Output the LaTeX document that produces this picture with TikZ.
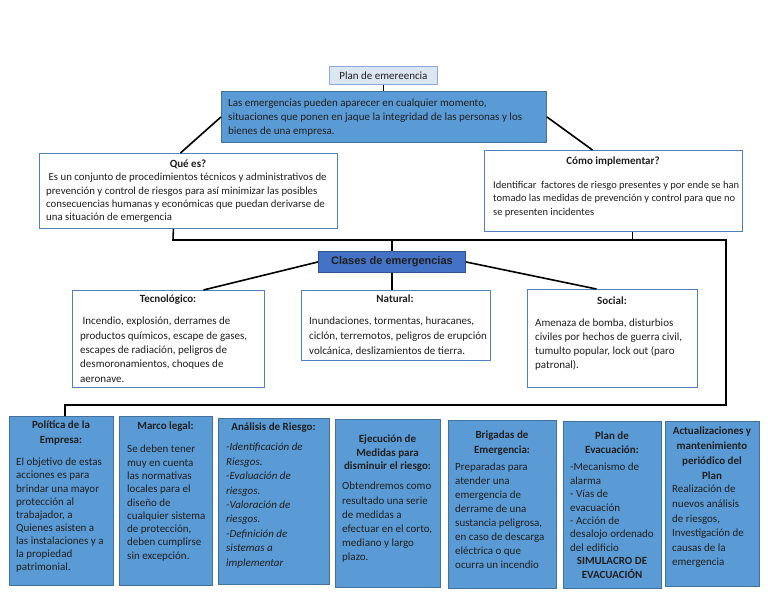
\documentclass[tikz,border=0pt]{standalone}
\usepackage{fontspec}
\setmainfont{Carlito}
\newfontfamily\clasefont{Liberation Sans}
\usetikzlibrary{calc}

\definecolor{steel}{HTML}{5B9BD5}
\definecolor{steeledge}{HTML}{41719C}
\definecolor{paleblue}{HTML}{DCE6F2}
\definecolor{paleedge}{HTML}{8EA9DB}
\definecolor{frameblue}{HTML}{4F81BD}
\definecolor{royal}{HTML}{4472C4}
\definecolor{royaledge}{HTML}{2F528F}
\definecolor{ink}{HTML}{1F1F1F}

\newcommand{\linesp}[1]{\fontsize{11}{#1}\selectfont}

\begin{document}
\begin{tikzpicture}[x=1pt, y=-1pt,
    box/.style={rectangle, anchor=north west, inner sep=0pt, line width=0.9pt},
    planbox/.style={box, draw=paleedge, fill=paleblue},
    mainbox/.style={box, draw=steeledge, fill=steel},
    framebox/.style={box, draw=frameblue, fill=white},
    clasebox/.style={box, draw=royaledge, fill=royal},
    bluebox/.style={box, draw=steeledge, fill=steel},
    ttl/.style={inner sep=0pt, anchor=north, align=center, text=ink},
    bdy/.style={inner sep=0pt, anchor=north west, align=left, text=ink},
    link/.style={line width=1.6pt, black}]

    \useasboundingbox (0,0) rectangle (768,594);

    % --- 1. Top of the chart ---
    \node[planbox, minimum width=108pt, minimum height=18pt, font=\linesp{13}, text=ink] (plan) at (329,66) {Plan de emereencia};

    \node[mainbox, minimum width=325pt, minimum height=51pt] (main) at (221,91) {};
    \node[bdy, font=\linesp{13.8}] (main-t) at (228,99) {Las emergencias pueden aparecer en cualquier momento,\\
        situaciones que ponen en jaque la integridad de las personas y los\\
        bienes de una empresa.};

    % --- 2. Que es / Como implementar ---
    \node[framebox, minimum width=298pt, minimum height=75pt] (quees) at (39,153) {};
    \node[ttl, font=\bfseries\linesp{13.4}] (quees-ttl) at (188,160) {Qué es?};
    \node[bdy, font=\fontsize{10.8}{13.4}\selectfont] (quees-t) at (46,173) {\hspace*{2.5pt}Es un conjunto de procedimientos técnicos y administrativos de\\
        prevención y control de riesgos para así minimizar las posibles\\
        consecuencias humanas y económicas que puedan derivarse de\\
        una situación de emergencia};

    \node[framebox, minimum width=258pt, minimum height=81pt] (como) at (484,150) {};
    \node[ttl, font=\bfseries\linesp{13.4}] (como-ttl) at (613,157) {Cómo implementar?};
    \node[bdy, font=\fontsize{10.5}{13.5}\selectfont] (como-t) at (493,181) {Identificar~ factores de riesgo presentes y por ende se han\\
        tomado las medidas de prevención y control para que no\\
        se presenten incidentes};

    % --- 3. Clases de emergencias ---
    \node[clasebox, minimum width=147pt, minimum height=21pt, font=\clasefont\bfseries\fontsize{11}{13}\selectfont, text=ink] (clases) at (318,251) {Clases de emergencias};

    \node[framebox, minimum width=192pt, minimum height=97pt] (tecno) at (72,290) {};
    \node[ttl, font=\bfseries\linesp{13.4}] (tecno-ttl) at (168,295) {Tecnológico:};
    \node[bdy, font=\linesp{14.3}] (tecno-t) at (80,317) {\hspace*{2.5pt}Incendio, explosión, derrames de\\
        productos químicos, escape de gases,\\
        escapes de radiación, peligros de\\
        desmoronamientos, choques de\\
        aeronave.};

    \node[framebox, minimum width=189pt, minimum height=70pt] (natural) at (301,290) {};
    \node[ttl, font=\bfseries\linesp{13.4}] (natural-ttl) at (395,295) {Natural:};
    \node[bdy, font=\linesp{15}] (natural-t) at (309,317) {Inundaciones, tormentas, huracanes,\\
        ciclón, terremotos, peligros de erupción\\
        volcánica, deslizamientos de tierra.};

    \node[framebox, minimum width=170pt, minimum height=98pt] (social) at (527,289) {};
    \node[ttl, font=\bfseries\linesp{13.4}] (social-ttl) at (612,297) {Social:};
    \node[bdy, font=\linesp{14}] (social-t) at (535,319) {Amenaza de bomba, disturbios\\
        civiles por hechos de guerra civil,\\
        tumulto popular, lock out (paro\\
        patronal).};

    % --- 4. Bottom row ---
    \node[bluebox, minimum width=104pt, minimum height=169pt] (politica) at (9,416) {};
    \node[ttl, font=\bfseries\linesp{15}] (politica-ttl) at (61,421) {Política de la\\ Empresa:};
    \node[bdy, font=\linesp{13.1}] (politica-t) at (16,458) {El objetivo de estas\\
        acciones es para\\
        brindar una mayor\\
        protección al\\
        trabajador, a\\
        Quienes asisten a\\
        las instalaciones y a\\
        la propiedad\\
        patrimonial.};

    \node[bluebox, minimum width=93pt, minimum height=169pt] (marco) at (119,416) {};
    \node[ttl, font=\bfseries\linesp{14}] (marco-ttl) at (165.5,422) {Marco legal:};
    \node[bdy, font=\linesp{13.3}] (marco-t) at (127,445) {Se deben tener\\
        muy en cuenta\\
        las normativas\\
        locales para el\\
        diseño de\\
        cualquier sistema\\
        de protección,\\
        deben cumplirse\\
        sin excepción.};

    \node[bluebox, minimum width=111pt, minimum height=166pt] (analisis) at (218,418) {};
    \node[ttl, font=\bfseries\linesp{14}] (analisis-ttl) at (273.5,423) {Análisis de Riesgo:};
    \node[bdy, font=\itshape\linesp{14.4}] (analisis-t) at (226,443) {-Identificación de\\
        Riesgos.\\
        -Evaluación de\\
        riesgos.\\
        -Valoración de\\
        riesgos.\\
        -Definición de\\
        sistemas a\\
        implementar};

    \node[bluebox, minimum width=105pt, minimum height=168pt] (ejecucion) at (335,419) {};
    \node[ttl, font=\bfseries\linesp{13.5}] (ejecucion-ttl) at (387.5,435) {Ejecución de\\ Medidas para\\ disminuir el riesgo:};
    \node[bdy, font=\linesp{14.2}] (ejecucion-t) at (342,482) {Obtendremos como\\
        resultado una serie\\
        de medidas a\\
        efectuar en el corto,\\
        mediano y largo\\
        plazo.};

    \node[bluebox, minimum width=108pt, minimum height=168pt] (brigadas) at (448,420) {};
    \node[ttl, font=\bfseries\linesp{14.5}] (brigadas-ttl) at (502,431) {Brigadas de\\ Emergencia:};
    \node[bdy, font=\linesp{13.9}] (brigadas-t) at (455,463) {Preparadas para\\
        atender una\\
        emergencia de\\
        derrame de una\\
        sustancia peligrosa,\\
        en caso de descarga\\
        eléctrica o que\\
        ocurra un incendio};

    \node[bluebox, minimum width=98pt, minimum height=167pt] (evacuacion) at (563,421) {};
    \node[ttl, font=\bfseries\linesp{14}] (evacuacion-ttl) at (612,432) {Plan de\\ Evacuación:};
    \node[bdy, font=\linesp{13.4}] (evacuacion-t) at (570,463) {-Mecanismo de\\
        alarma\\
        - Vías de\\
        evacuación\\
        - Acción de\\
        desalojo ordenado\\
        del edificio};
    \node[ttl, font=\bfseries\linesp{14}] (simulacro) at (612,557) {SIMULACRO DE\\ EVACUACIÓN};

    \node[bluebox, minimum width=94pt, minimum height=165pt] (actual) at (665,421) {};
    \node[ttl, font=\bfseries\linesp{14.7}] (actual-ttl) at (712,427) {Actualizaciones y\\ mantenimiento\\ periódico del\\ Plan};
    \node[bdy, font=\linesp{14.6}] (actual-t) at (672,485) {Realización de\\
        nuevos análisis\\
        de riesgos,\\
        Investigación de\\
        causas de la\\
        emergencia};

    % --- 5. Connectors ---
    \coordinate (busL) at (173,240);
    \coordinate (busR) at (726,240);
    \coordinate (loopR) at (726,405);
    \coordinate (loopL) at (65,405);

    \draw[link] (plan.south) -- (plan.south |- main.north);
    \draw[link] (main.west) -- ([xshift=-8pt]quees.north);
    \draw[link] (main.east) -- ([xshift=-21pt]como.north);

    \draw[link] ([xshift=-15pt]quees.south) -- (busL) -- (busR) -- (loopR) -- (loopL) -- (loopL |- politica.north);
    \draw[link] ([xshift=19pt]como.south) -- ([xshift=19pt]como.south |- busR);
    \draw[link] (clases.north) -- (clases.north |- busL);

    \draw[link] (clases.west) -- ([xshift=35pt]tecno.north);
    \draw[link] (clases.south) -- (clases.south |- natural.north);
    \draw[link] (clases.east) -- ([xshift=-16pt]social.north);
\end{tikzpicture}
\end{document}
